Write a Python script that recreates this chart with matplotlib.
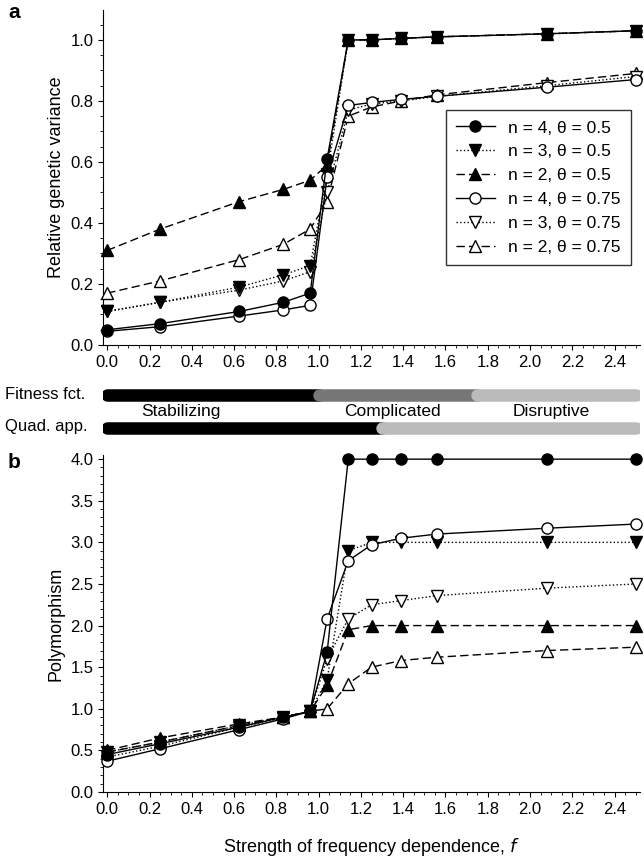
import matplotlib
matplotlib.use("Agg")
import matplotlib.pyplot as plt
from matplotlib.ticker import MultipleLocator

f = [0.0, 0.25, 0.625, 0.833, 0.96, 1.04, 1.14, 1.25, 1.39, 1.56, 2.08, 2.5]
labels = ["n = 4, θ = 0.5", "n = 3, θ = 0.5", "n = 2, θ = 0.5",
          "n = 4, θ = 0.75", "n = 3, θ = 0.75", "n = 2, θ = 0.75"]
var_a = [
    [0.05, 0.07, 0.11, 0.14, 0.17, 0.61, 1.0, 1.0, 1.005, 1.01, 1.02, 1.03],
    [0.11, 0.14, 0.19, 0.23, 0.26, 0.56, 1.0, 1.0, 1.005, 1.01, 1.02, 1.03],
    [0.31, 0.38, 0.47, 0.51, 0.54, 0.59, 1.0, 1.0, 1.005, 1.01, 1.02, 1.03],
    [0.045, 0.06, 0.095, 0.115, 0.13, 0.55, 0.785, 0.795, 0.805, 0.815, 0.845, 0.87],
    [0.11, 0.14, 0.18, 0.21, 0.24, 0.50, 0.77, 0.79, 0.80, 0.815, 0.85, 0.88],
    [0.17, 0.21, 0.28, 0.33, 0.38, 0.47, 0.75, 0.78, 0.80, 0.82, 0.86, 0.89],
]
poly_b = [
    [0.45, 0.58, 0.78, 0.90, 0.97, 1.68, 4.0, 4.0, 4.0, 4.0, 4.0, 4.0],
    [0.48, 0.60, 0.80, 0.90, 0.97, 1.35, 2.9, 3.0, 3.0, 3.0, 3.0, 3.0],
    [0.50, 0.65, 0.82, 0.90, 0.97, 1.28, 1.95, 2.0, 2.0, 2.0, 2.0, 2.0],
    [0.37, 0.52, 0.75, 0.88, 0.97, 2.08, 2.78, 2.97, 3.05, 3.10, 3.17, 3.22],
    [0.42, 0.55, 0.78, 0.89, 0.97, 1.60, 2.08, 2.25, 2.30, 2.36, 2.45, 2.50],
    [0.48, 0.60, 0.80, 0.90, 0.97, 1.00, 1.30, 1.50, 1.58, 1.62, 1.70, 1.74],
]
markers = ['o', 'v', '^', 'o', 'v', '^']
fills = ['k', 'k', 'k', 'w', 'w', 'w']
styles = ['-', ':', (0, (6, 3)), '-', ':', (0, (6, 3))]
zorders = [8, 6, 4, 7, 5, 3]

fit_segments = [(0.0, 1.0, '#000000'), (1.0, 1.75, '#777777'), (1.75, 2.5, '#bbbbbb')]
quad_segments = [(0.0, 1.3, '#000000'), (1.3, 2.5, '#bbbbbb')]
regime_names = [(0.35, "Stabilizing"), (1.35, "Complicated"), (2.1, "Disruptive")]

plt.rcParams['font.family'] = ['Liberation Sans', 'DejaVu Sans']
fig = plt.figure(figsize=(6.44, 8.65), dpi=100)
W, H = 644, 865
def ax_rect(l, t, r, b):
    return [l / W, 1 - b / H, (r - l) / W, (b - t) / H]

axa = fig.add_axes(ax_rect(103, 10, 640, 345))
axb = fig.add_axes(ax_rect(103, 455, 640, 792))
axm = fig.add_axes(ax_rect(103, 380, 640, 440))

xl = (-0.02, 2.52)
def style(ax):
    ax.spines['top'].set_visible(False)
    ax.spines['right'].set_visible(False)
    ax.set_xlim(*xl)
    ax.xaxis.set_major_locator(MultipleLocator(0.2))
    ax.xaxis.set_minor_locator(MultipleLocator(0.05))
    ax.tick_params(labelsize=12, direction='out')
    ax.xaxis.set_major_formatter(matplotlib.ticker.FormatStrFormatter('%.1f'))
    ax.yaxis.set_major_formatter(matplotlib.ticker.FormatStrFormatter('%.1f'))

for ax, data in ((axa, var_a), (axb, poly_b)):
    for d, m, fc, ls, lab, z in zip(data, markers, fills, styles, labels, zorders):
        ax.plot(f, d, color='k', linestyle=ls, linewidth=1, marker=m, markersize=8,
                markerfacecolor=fc, markeredgecolor='k', label=lab, zorder=z,
                clip_on=False)
    style(ax)

axa.set_ylim(0, 1.098)
axa.yaxis.set_major_locator(MultipleLocator(0.2))
axa.yaxis.set_minor_locator(MultipleLocator(0.05))
axa.set_ylabel("Relative genetic variance", fontsize=13)
leg = axa.legend(loc='center right', bbox_to_anchor=(1.0, 0.47), fontsize=12.5, frameon=True,
                 fancybox=False, edgecolor='k', handlelength=2.2, borderpad=0.6)
leg.set_zorder(10)

axb.set_ylim(0, 4.05)
axb.yaxis.set_major_locator(MultipleLocator(0.5))
axb.yaxis.set_minor_locator(MultipleLocator(0.1))
axb.set_ylabel("Polymorphism", fontsize=13)
axb.set_xlabel("Strength of frequency dependence, $f$", fontsize=13, labelpad=14)

axm.set_xlim(*xl)
axm.set_ylim(0, 1)
axm.axis('off')
for a, b, c in fit_segments:
    axm.plot([a, b], [0.75, 0.75], color=c, linewidth=9, solid_capstyle='round')
for a, b, c in quad_segments:
    axm.plot([a, b], [0.2, 0.2], color=c, linewidth=9, solid_capstyle='round')
for x, t in regime_names:
    axm.text(x, 0.47, t, ha='center', va='center', fontsize=12.5)
fig.text(5 / W, 1 - 395 / H, "Fitness fct.", fontsize=12, va='center')
fig.text(5 / W, 1 - 427 / H, "Quad. app.", fontsize=12, va='center')
fig.text(8 / W, 1 - 12 / H, "a", fontsize=15, fontweight='bold', va='center')
fig.text(8 / W, 1 - 463 / H, "b", fontsize=15, fontweight='bold', va='center')

fig.savefig("out.png", dpi=100)
